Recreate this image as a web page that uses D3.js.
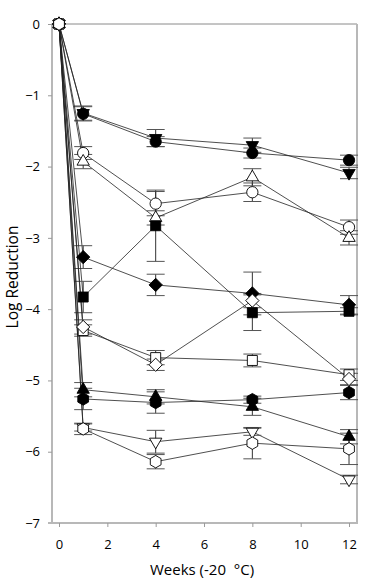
<!DOCTYPE html>
<html>
<head>
<meta charset="utf-8">
<script src="https://cdn.jsdelivr.net/npm/d3@7"></script>
<style>
  body { margin: 0; background: #fff; }
  text { font-family: "Open Sans", sans-serif; fill: #000; }
</style>
</head>
<body>
<div id="chart"></div>
<script>
// sampling points (weeks at -20 C)
var weeks = [0, 1, 4, 8, 12]
var xTicks = [0, 2, 4, 6, 8, 10, 12]
var yTicks = [0, -1, -2, -3, -4, -5, -6, -7]

// log reduction, one array per series (plus SE)
var filledCircle  = [0, -1.26, -1.65, -1.81, -1.91]
var filledCircleE = [0, 0.10, 0.07, 0.07, 0.07]
var filledDown    = [0, -1.25, -1.60, -1.70, -2.09]
var filledDownE   = [0, 0.10, 0.12, 0.10, 0.08]
var openCircle    = [0, -1.81, -2.52, -2.36, -2.85]
var openCircleE   = [0, 0.09, 0.17, 0.13, 0.10]
var openUp        = [0, -1.93, -2.72, -2.15, -3.00]
var openUpE       = [0, 0.10, 0.10, 0.12, 0.10]
var filledDiamond = [0, -3.27, -3.66, -3.78, -3.94]
var filledDiamondE= [0, 0.16, 0.15, 0.30, 0.13]
var filledSquare  = [0, -3.83, -2.83, -4.05, -4.03]
var filledSquareE = [0, 0.22, 0.50, 0.25, 0.05]
var openDiamond   = [0, -4.25, -4.78, -3.88, -4.98]
var openDiamondE  = [0, 0.10, 0.08, 0.10, 0.08]
var openSquare    = [0, -4.30, -4.68, -4.72, -4.92]
var openSquareE   = [0, 0.08, 0.10, 0.09, 0.08]
var filledUp      = [0, -5.13, -5.23, -5.37, -5.79]
var filledUpE     = [0, 0.10, 0.10, 0.12, 0.10]
var filledHex     = [0, -5.26, -5.31, -5.27, -5.17]
var filledHexE    = [0, 0.15, 0.15, 0.05, 0.10]
var openDown      = [0, -5.66, -5.86, -5.72, -6.39]
var openDownE     = [0, 0.05, 0.16, 0.05, 0.06]
var openHex       = [0, -5.68, -6.14, -5.88, -5.96]
var openHexE      = [0, 0.08, 0.10, 0.22, 0.22]

var w = 376
var h = 583
var pLeft = 52, pRight = 357, pTop = 24, pBottom = 523

var hexagon = {
  draw: function(ctx, size) {
    var r = Math.sqrt(size / (1.5 * Math.sqrt(3)))
    for (var i = 0; i < 6; i++) {
      var a = -Math.PI / 2 + i * Math.PI / 3
      if (i == 0) ctx.moveTo(r * Math.cos(a), r * Math.sin(a))
      else ctx.lineTo(r * Math.cos(a), r * Math.sin(a))
    }
    ctx.closePath()
  }
}

// marker styles: [values, errors, symbol, size, rotate, filled]
var series = [
  [filledCircle, filledCircleE, d3.symbolCircle, 100, 0, true],
  [filledDown, filledDownE, d3.symbolTriangle, 66, 180, true],
  [openCircle, openCircleE, d3.symbolCircle, 100, 0, false],
  [openUp, openUpE, d3.symbolTriangle, 66, 0, false],
  [filledDiamond, filledDiamondE, d3.symbolSquare, 88, 45, true],
  [filledSquare, filledSquareE, d3.symbolSquare, 100, 0, true],
  [openSquare, openSquareE, d3.symbolSquare, 100, 0, false],
  [openDiamond, openDiamondE, d3.symbolSquare, 88, 45, false],
  [filledUp, filledUpE, d3.symbolTriangle, 66, 0, true],
  [filledHex, filledHexE, hexagon, 100, 0, true],
  [openDown, openDownE, d3.symbolTriangle, 66, 180, false],
  [openHex, openHexE, hexagon, 100, 0, false]
]

var xScale = d3.scaleLinear().domain([-0.29, 12.33]).range([pLeft, pRight])
var yScale = d3.scaleLinear().domain([0, -7]).range([pTop, pBottom])

var svg = d3.select("#chart").append("svg").attr("width", w).attr("height", h)

// frame
svg.append("line").attr("x1", pLeft).attr("x2", pRight).attr("y1", pTop).attr("y2", pTop)
   .attr("stroke", "#8a8a8a").attr("stroke-width", 1)
svg.append("line").attr("x1", pRight).attr("x2", pRight).attr("y1", pTop).attr("y2", pBottom)
   .attr("stroke", "#b8b8b8").attr("stroke-width", 2)

var yAxis = svg.append("g")
   .attr("transform", "translate(" + pLeft + ",0)")
   .call(d3.axisLeft(yScale).tickValues(yTicks).tickSize(4).tickPadding(8).tickFormat(d3.format("d")))
var xAxis = svg.append("g")
   .attr("transform", "translate(0," + pBottom + ")")
   .call(d3.axisBottom(xScale).tickValues(xTicks).tickSize(4).tickPadding(13))

yAxis.select(".domain").attr("d", "M0," + (pTop - 0.5) + "V" + (pBottom + 1)).attr("stroke", "#b8b8b8").attr("stroke-width", 2)
xAxis.select(".domain").attr("d", "M" + (pLeft - 4) + ",0H" + (pRight + 1)).attr("stroke", "#b8b8b8").attr("stroke-width", 2)
svg.selectAll(".tick line").attr("stroke", "#9a9a9a")
svg.selectAll(".tick text").style("font-family", "'Open Sans', sans-serif").style("font-size", "13px")

// lines + error bars per series
series.forEach(function(s) {
  var vals = s[0], errs = s[1]
  var pts = weeks.map(function(wk, i) { return {x: wk, y: vals[i], e: errs[i]} })

  var line = d3.line()
     .x(function(d) { return xScale(d.x) })
     .y(function(d) { return yScale(d.y) })

  svg.append("path").datum(pts)
     .attr("d", line)
     .attr("fill", "none")
     .attr("stroke", "#222")
     .attr("stroke-width", 0.8)

  var eb = svg.append("g").selectAll("g")
     .data(pts.filter(function(d) { return d.e > 0 }))
     .enter().append("g")
  eb.append("line")
     .attr("x1", function(d) { return xScale(d.x) })
     .attr("x2", function(d) { return xScale(d.x) })
     .attr("y1", function(d) { return yScale(d.y + d.e) })
     .attr("y2", function(d) { return yScale(d.y - d.e) })
     .attr("stroke", "#333").attr("stroke-width", 1)
  ;[1, -1].forEach(function(sign) {
    eb.append("line")
       .attr("x1", function(d) { return xScale(d.x) - 9 })
       .attr("x2", function(d) { return xScale(d.x) + 9 })
       .attr("y1", function(d) { return yScale(d.y + sign * d.e) })
       .attr("y2", function(d) { return yScale(d.y + sign * d.e) })
       .attr("stroke", "#555").attr("stroke-width", 1)
  })
})

// markers on top
series.forEach(function(s) {
  var vals = s[0]
  var sym = d3.symbol().type(s[2]).size(s[3])
  svg.append("g").selectAll("path")
     .data(weeks.map(function(wk, i) { return {x: wk, y: vals[i]} }))
     .enter().append("path")
     .attr("d", sym)
     .attr("transform", function(d) {
        return "translate(" + xScale(d.x) + "," + yScale(d.y) + ") rotate(" + s[4] + ")"
     })
     .attr("fill", s[5] ? "#000" : "#fff")
     .attr("stroke", "#000")
     .attr("stroke-width", 0.9)
})

svg.append("text")
   .attr("x", 202).attr("y", 575)
   .attr("text-anchor", "middle")
   .style("font-size", "15px")
   .style("white-space", "pre")
   .text("Weeks (-20  °C)")

svg.append("text")
   .attr("transform", "translate(18,277) rotate(-90)")
   .attr("text-anchor", "middle")
   .style("font-size", "15.5px")
   .text("Log Reduction")
</script>
</body>
</html>
